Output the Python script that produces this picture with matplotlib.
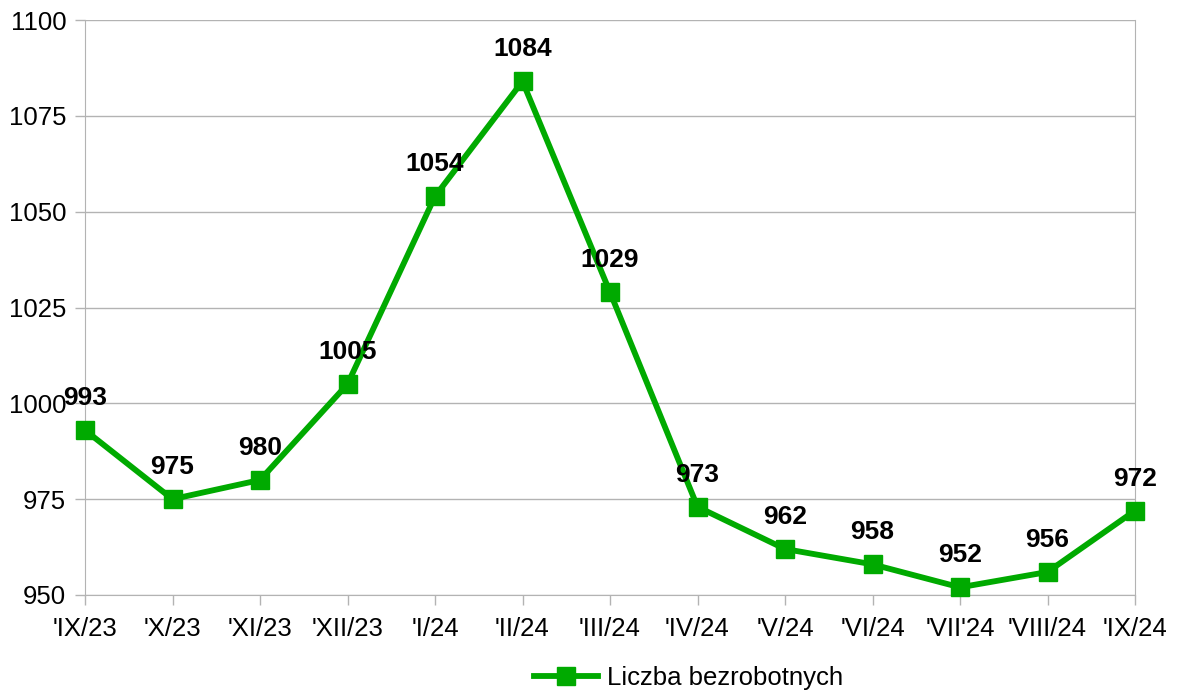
import matplotlib.pyplot as plt

plt.rcParams['font.family'] = ['Liberation Sans', 'DejaVu Sans']

months = ["'IX/23", "'X/23", "'XI/23", "'XII/23", "'I/24", "'II/24", "'III/24",
          "'IV/24", "'V/24", "'VI/24", "'VII'24", "'VIII/24", "'IX/24"]
unemployed = [993, 975, 980, 1005, 1054, 1084, 1029, 973, 962, 958, 952, 956, 972]

green = '#00aa00'
grid_c = '#b3b3b3'

fig = plt.figure(figsize=(11.78, 6.93), dpi=100)
ax = fig.add_axes([85 / 1178, 98 / 693, 1050 / 1178, 575 / 693])

x = list(range(len(months)))
ax.plot(x, unemployed, color=green, linewidth=4.2, marker='s', markersize=13.5,
        label='Liczba bezrobotnych', zorder=3, clip_on=False)

for xi, v in zip(x, unemployed):
    ax.annotate(str(v), (xi, v), xytext=(0, 23), textcoords='offset points',
                ha='center', va='center', fontsize=19, fontweight='bold', zorder=4)

ax.set_xlim(0, len(months) - 1)
ax.set_ylim(950, 1100)
ax.set_yticks(range(950, 1101, 25))
ax.set_xticks(x)
ax.set_xticklabels(months)
ax.yaxis.grid(True, color=grid_c, linewidth=1)
ax.set_axisbelow(True)
for side in ['left', 'right', 'bottom']:
    ax.spines[side].set_color(grid_c)
ax.spines['top'].set_visible(False)
ax.tick_params(axis='both', colors=grid_c, labelcolor='black', labelsize=18.5,
               length=7.5, width=1)
ax.tick_params(axis='x', pad=8)
ax.tick_params(axis='y', pad=6)

ax.legend(loc='upper center', bbox_to_anchor=(0.575, -0.092), frameon=False,
          fontsize=18.5, handlelength=2.5, handletextpad=0.35, markerscale=0.92,
          borderpad=0.2)

fig.savefig('out.png', dpi=100)
